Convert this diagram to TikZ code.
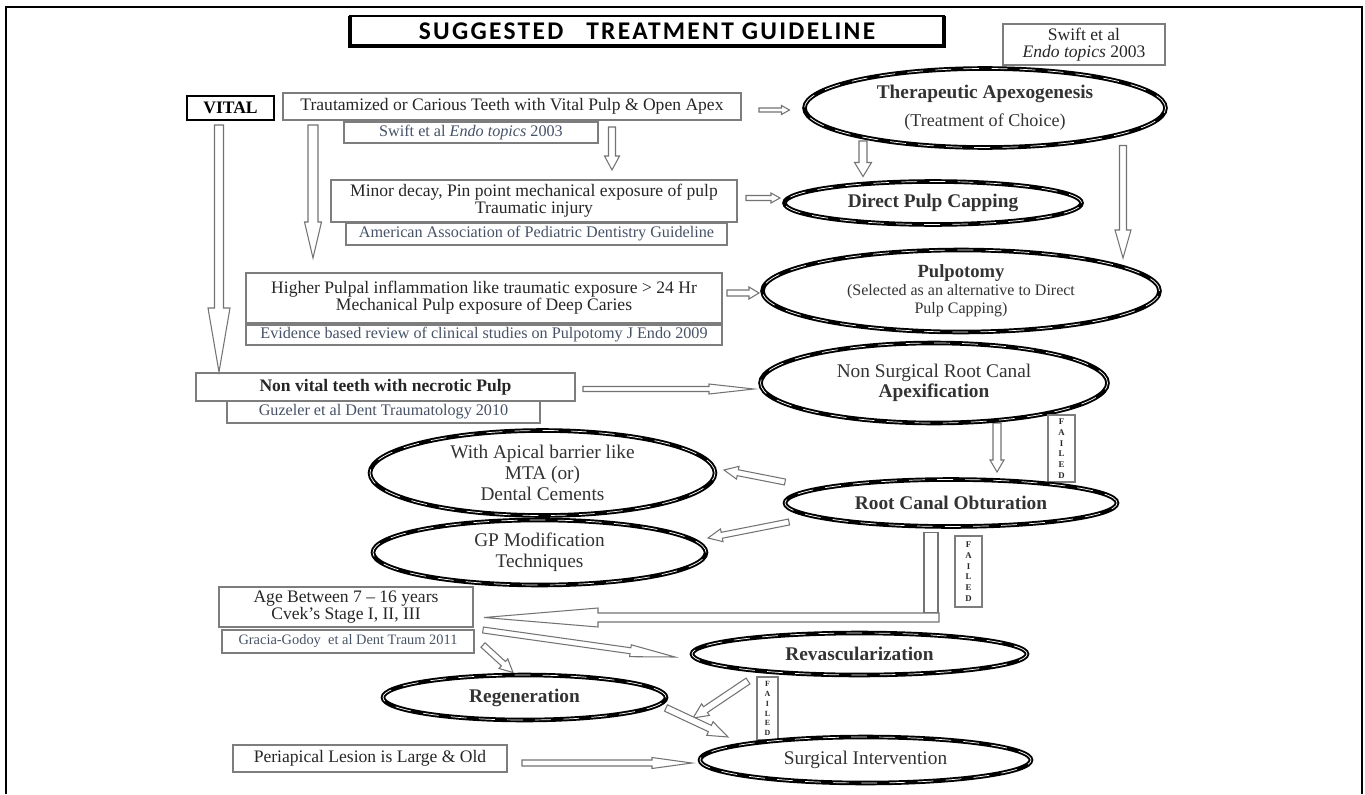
\documentclass[tikz,border=0pt]{standalone}
\usepackage{fontspec}
\setmainfont{Liberation Serif}
\newfontfamily\titlefont{Carlito}[LetterSpace=9]
\usepackage{tikz}
\usetikzlibrary{shapes,calc,backgrounds}

\definecolor{refblue}{RGB}{70,82,102}
\definecolor{edgegray}{RGB}{125,125,125}

\tikzset{wh/.style 2 args={minimum width=#1*0.02cm,minimum height=#2*0.02cm}}

% hollow arrow: shaft half width, head half width, head length (px), from, to
\newcommand{\harrow}[5]{%
\draw[harr] let \p1=(#4), \p2=(#5), \n1={atan2(\y2-\y1,\x2-\x1)}, \n2={veclen(\x2-\x1,\y2-\y1)} in
{[shift={(\x1,\y1)},rotate=\n1]
(0pt,{#1*0.02cm}) -- ({\n2*1pt-#3*0.02cm},{#1*0.02cm}) -- ({\n2*1pt-#3*0.02cm},{#2*0.02cm})
-- ({\n2*1pt},0pt) -- ({\n2*1pt-#3*0.02cm},{-#2*0.02cm}) -- ({\n2*1pt-#3*0.02cm},{-#1*0.02cm})
-- (0pt,{-#1*0.02cm}) -- cycle};}

\begin{document}
\begin{tikzpicture}[x=0.02cm,y=-0.02cm,font=\fontsize{10}{9.5}\selectfont]
\tikzstyle{box}=[rectangle,draw=edgegray,line width=0.6pt,inner sep=0pt,outer sep=0pt,align=center,text=black!85]
\tikzstyle{ref}=[box,text=refblue,font=\fontsize{9.2}{10}\selectfont]
\tikzstyle{oval}=[ellipse,draw=black,line width=2.6pt,inner sep=0pt,outer sep=0pt,align=center,text=black!80,
  font=\fontsize{11}{12}\selectfont,postaction={draw=white,line width=0.4pt,dash pattern=on 9pt off 7pt}]
\tikzstyle{boldoval}=[oval,font=\fontsize{11}{12}\selectfont\bfseries]
\tikzstyle{failed}=[box,font=\fontsize{5}{6.1}\selectfont\bfseries]
\tikzstyle{harr}=[draw=black!55,line width=0.6pt,fill=white]

\useasboundingbox (0,0) rectangle (1365,794);
\draw[line width=1.3pt] (6,794) -- (6,7) -- (1362,7) -- (1362,794);

\node[box,draw=black,line width=0.8pt,text=black,font=\titlefont\fontsize{14.5}{16}\selectfont\bfseries]
  (title) at (647,31) [wh={594}{30}] {SUGGESTED\hspace{0.9em}TREATMENT GUIDELINE};
\draw[line width=2pt] (title.north west) -- (title.south west) -- (title.south east) -- (title.north east);
\node[box] (swifttop) at (1084,44.5) [wh={162}{41}] {Swift et al\\\textit{Endo topics} 2003};

\node[box,draw=black,line width=1.4pt,text=black,font=\fontsize{10}{11}\selectfont\bfseries]
  (vital) at (230.5,108) [wh={87}{24}] {VITAL};
\node[box] (traut) at (512,106.5) [wh={458}{27}] {Trautamized or Carious Teeth with Vital Pulp \& Open Apex};
\node[ref] (swiftref) at (471,132.5) [wh={254}{21}] {Swift et al \textit{Endo topics} 2003};
\node[oval] (ther) at (985,108) [wh={361}{79}]
  {\textbf{Therapeutic Apexogenesis}\\[4pt]{\fontsize{10.3}{11}\selectfont(Treatment of Choice)}};

\node[box] (minor) at (534,201) [wh={406}{42}] {Minor decay, Pin point mechanical exposure of pulp\\Traumatic injury};
\node[ref] (american) at (536.5,234) [wh={381}{22}] {American Association of Pediatric Dentistry Guideline};
\node[boldoval] (direct) at (933,203) [wh={297}{43}] {Direct Pulp Capping};

\node[box] (higher) at (484,298) [wh={476}{50}] {Higher Pulpal inflammation like traumatic exposure > 24 Hr\\Mechanical Pulp exposure of Deep Caries};
\node[ref] (evidence) at (484,335) [wh={476}{20}] {Evidence based review of clinical studies on Pulpotomy J Endo 2009};
\node[oval] (pulp) at (961,291) [wh={397}{82}]
  {{\fontsize{10.6}{11}\selectfont\textbf{Pulpotomy}}\\[-2pt]{\fontsize{9.1}{10}\selectfont(Selected as an alternative to Direct}\\[-1.5pt]{\fontsize{9.1}{10}\selectfont Pulp Capping)}};

\node[box,font=\fontsize{10}{11}\selectfont\bfseries] (nonvital) at (385.5,387) [wh={379}{28}] {Non vital teeth with necrotic Pulp};
\node[ref] (guzeler) at (383.5,412) [wh={313}{22}] {Guzeler et al Dent Traumatology 2010};
\node[oval] (nonsurg) at (934,383) [wh={347}{80}] {Non Surgical Root Canal\\[-1pt]\textbf{Apexification}};
\node[failed] (failA) at (1061.5,448.5) [wh={27}{67}] {F\\A\\I\\L\\E\\D};

\node[boldoval] (rco) at (951,503) [wh={332}{47}] {Root Canal Obturation};
\node[oval] (apical) at (542.5,473) [wh={345}{85}] {With Apical barrier like\\MTA (or)\\Dental Cements};
\node[oval] (gp) at (539.5,552.5) [wh={333}{65}] {GP Modification\\Techniques};
\node[failed] (failB) at (968.5,571.5) [wh={27}{71}] {F\\A\\I\\L\\E\\D};

\node[box] (age) at (346,607) [wh={254}{40}] {Age Between 7 – 16 years\\Cvek’s Stage I, II, III};
\node[ref,font=\fontsize{8.2}{9}\selectfont] (gracia) at (348,641.5) [wh={252}{23}] {Gracia-Godoy\ \ et al Dent Traum 2011};
\node[boldoval] (revasc) at (859.5,654) [wh={335}{42}] {Revascularization};
\node[boldoval] (regen) at (524.5,697.5) [wh={283}{45}] {Regeneration};
\node[failed,font=\fontsize{4.5}{5.6}\selectfont\bfseries] (failC) at (767.5,708.5) [wh={21}{63}] {F\\A\\I\\L\\E\\D};
\node[oval] (surg) at (865.5,760) [wh={331}{46}] {Surgical Intervention};
\node[box] (periapical) at (370,758.5) [wh={274}{27}] {Periapical Lesion is Large \& Old};

\begin{pgfonlayer}{background}
\harrow{2}{4.5}{8}{$(traut.east)+(18,3.5)$}{$(ther.west)+(-15,2)$}
\harrow{3.5}{7.5}{14}{$(traut.south)+(100,7)$}{$(minor.north)+(78,-10)$}
\harrow{4.5}{11}{64}{$(vital.south)+(-11.5,5)$}{$(nonvital.north west)+(23,-1)$}
\harrow{5}{8.5}{36}{$(traut.south west)+(30,5)$}{$(higher.north west)+(67,-15)$}
\harrow{4}{8.5}{14}{$(ther.south)+(-122,-6.5)$}{$(direct.north)+(-70,-5)$}
\harrow{3.5}{8}{28}{$(ther.south)+(138,-2)$}{$(pulp.north)+(162,8)$}
\harrow{2.5}{5}{9}{$(minor.east)+(9,-3)$}{$(direct.west)+(-4.5,-5)$}
\harrow{3}{6}{10}{$(higher.east)+(5,-5)$}{$(pulp.west)+(-3.5,2)$}
\harrow{2.5}{5}{45}{$(nonvital.east)+(8,2)$}{$(nonsurg.west)+(-6.5,6)$}
\harrow{4}{7}{12}{$(nonsurg.south)+(63,0)$}{$(rco.north)+(46,-7.5)$}
\harrow{3}{6.5}{14}{$(rco.west)+(0,-21)$}{$(apical.east)+(9,-3)$}
\harrow{3}{6.5}{14}{$(rco.west)+(4,19)$}{$(gp.east)+(2,-14.5)$}
\draw[harr] ($(rco.south)+(-27,6)$) rectangle ($(rco.south)+(-13,86.5)$);
\harrow{4.5}{9.5}{114}{$(rco.south)+(-12,91)$}{$(age.east)+(11,10.5)$}
\harrow{3}{6}{45}{$(gracia.east)+(9,-11.5)$}{$(revasc.west)+(-17,3)$}
\harrow{3}{6.5}{13}{$(gracia.east)+(9,3.5)$}{$(regen.north)+(-11.5,-2.5)$}
\harrow{3.5}{7}{15}{$(revasc.south)+(-111.5,6)$}{$(surg.west)+(-7,-42)$}
\harrow{3.5}{7.5}{20}{$(regen.east)+(0,10.5)$}{$(surg.north)+(-137.5,0)$}
\harrow{3}{5.5}{40}{$(periapical.east)+(15,4.5)$}{$(surg.west)+(-8,3)$}
\end{pgfonlayer}
\end{tikzpicture}
\end{document}
